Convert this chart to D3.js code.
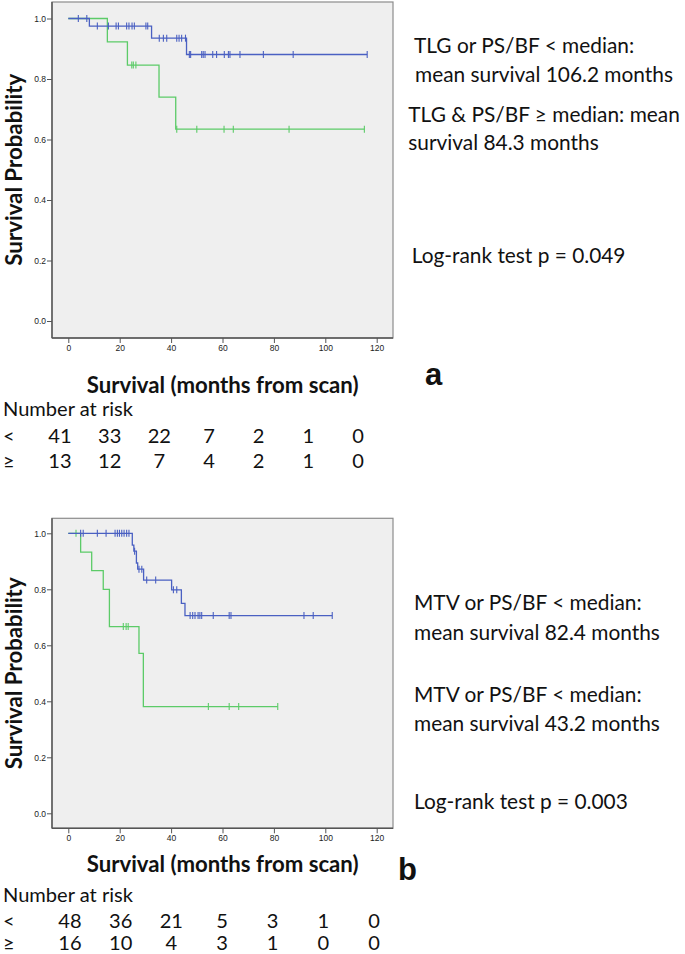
<!DOCTYPE html>
<html><head><meta charset="utf-8">
<script src="https://cdn.jsdelivr.net/npm/d3@7"></script>
<style>body{margin:0;background:#fff;} svg{display:block;}</style>
</head><body>
<script>
// ---------- DATA ----------
const xTickValues = [0, 20, 40, 60, 80, 100, 120];
const yTickValues = [0.0, 0.2, 0.4, 0.6, 0.8, 1.0];
const riskTimes = [0, 20, 40, 60, 80, 100, 120];

// Panel a
const aBlueTimes = [0, 8.2, 32.4, 46.0];
const aBlueSurv  = [1.0, 0.975, 0.935, 0.881];
const aBlueEnd   = 116.3;
const aBlueCens  = [3.9, 7.2, 11.3, 15.6, 18.6, 19.5, 22.7, 23.6, 24.8, 25.7, 30.2, 30.9, 35.4, 37.0, 38.3, 42.2, 43.1, 44.1, 45.6, 47.1, 47.6, 51.9, 52.5, 53.2, 56.2, 57.7, 60.7, 62.3, 62.9, 66.8, 75.9, 87.5, 116.3];
const aGreenTimes = [0, 15.2, 23.0, 35.3, 41.8];
const aGreenSurv  = [1.0, 0.923, 0.846, 0.740, 0.634];
const aGreenEnd   = 115.2;
const aGreenCens  = [24.7, 25.3, 26.3, 42.2, 50.0, 60.6, 64.2, 85.9, 115.2];
const aRiskLow  = [41, 33, 22, 7, 2, 1, 0];
const aRiskHigh = [13, 12, 7, 4, 2, 1, 0];
const aNotes = ["TLG or PS/BF < median:", "mean survival 106.2 months", "TLG & PS/BF \u2265 median: mean", "survival 84.3 months", "Log-rank test p = 0.049"];

// Panel b
const bBlueTimes = [0, 24.9, 25.5, 26.5, 27.0, 29.3, 40.2, 44.0, 45.4];
const bBlueSurv  = [1.0, 0.958, 0.936, 0.894, 0.872, 0.833, 0.798, 0.750, 0.706];
const bBlueEnd   = 102.7;
const bBlueCens  = [4.8, 5.8, 11.3, 14.7, 18.2, 19.1, 19.9, 20.8, 21.7, 22.7, 23.6, 25.8, 27.5, 28.6, 30.5, 34.0, 40.9, 42.2, 47.4, 48.4, 49.3, 50.5, 51.2, 51.9, 56.4, 62.6, 63.3, 91.7, 95.3, 102.7];
const bGreenTimes = [0, 4.8, 9.1, 13.6, 16.0, 27.5, 29.2];
const bGreenSurv  = [1.0, 0.933, 0.867, 0.800, 0.667, 0.571, 0.381];
const bGreenEnd   = 81.5;
const bGreenCens  = [3.0, 21.4, 22.5, 23.3, 54.5, 62.6, 66.3, 81.5];
const bRiskLow  = [48, 36, 21, 5, 3, 1, 0];
const bRiskHigh = [16, 10, 4, 3, 1, 0, 0];
const bNotes = ["MTV or PS/BF < median:", "mean survival 82.4 months", "MTV or PS/BF < median:", "mean survival 43.2 months", "Log-rank test p = 0.003"];

// ---------- STYLE ----------
const BLUE = "#4a60c2", GREEN = "#5ccb68";
const FONT = "Lato, 'Open Sans', sans-serif";

const svg = d3.select("body").append("svg").attr("width", 685).attr("height", 954);

function fitSize(text, weight, target) {
  const t = svg.append("text").attr("font-family", FONT).attr("font-weight", weight)
    .attr("font-size", 100).text(text);
  const w = t.node().getComputedTextLength();
  t.remove();
  return 100 * target / w;
}
const noteSize = fitSize("mean survival 106.2 months", 400, 258);
const titleSize = fitSize("Survival (months from scan)", 700, 272);
const ylabSize = fitSize("Survival Probability", 700, 192);
const riskSize = fitSize("Number at risk", 400, 130);

function panel(cfg) {
  const g = svg.append("g");
  const x = d3.scaleLinear().domain([0, 120]).range([68.3, 376.7]);
  const y = d3.scaleLinear().domain([0, 1]).range([cfg.y0, cfg.y1]);

  g.append("rect").attr("x", 52).attr("y", cfg.top).attr("width", 341).attr("height", cfg.bottom - cfg.top)
    .attr("fill", "#efefef").attr("stroke", "#8c8c8c").attr("stroke-width", 1.2);
  g.append("line").attr("x1", 52).attr("x2", 52).attr("y1", cfg.top).attr("y2", cfg.bottom).attr("stroke", "#555").attr("stroke-width", 1.4);
  g.append("line").attr("x1", 52).attr("x2", 393).attr("y1", cfg.bottom).attr("y2", cfg.bottom).attr("stroke", "#555").attr("stroke-width", 1.4);

  const xa = g.append("g").attr("transform", `translate(0,${cfg.bottom})`)
    .call(d3.axisBottom(x).tickValues(xTickValues).tickSize(5).tickSizeOuter(0).tickFormat(d3.format("d")));
  xa.select(".domain").remove();
  xa.selectAll("line").attr("stroke", "#555");
  xa.selectAll("text").attr("font-family", "'Liberation Sans', Arial, sans-serif").attr("font-size", 8.5).attr("fill", "#222").attr("dy", "0.6em");

  const ya = g.append("g").attr("transform", "translate(52,0)")
    .call(d3.axisLeft(y).tickValues(yTickValues).tickSize(5).tickSizeOuter(0).tickFormat(d3.format(".1f")));
  ya.select(".domain").remove();
  ya.selectAll("line").attr("stroke", "#555");
  ya.selectAll("text").attr("font-family", "'Liberation Sans', Arial, sans-serif").attr("font-size", 8.5).attr("fill", "#222").attr("x", -6);

  const line = d3.line().x(d => x(d[0])).y(d => y(d[1])).curve(d3.curveStepAfter);
  function curve(times, surv, end, cens, color) {
    const pts = times.map((t, i) => [t, surv[i]]);
    pts.push([end, surv[surv.length - 1]]);
    g.append("path").attr("d", line(pts)).attr("fill", "none").attr("stroke", color).attr("stroke-width", 1.3);
    const sAt = t => { let s = surv[0]; times.forEach((tt, i) => { if (tt <= t) s = surv[i]; }); return s; };
    g.selectAll(null).data(cens).enter().append("line")
      .attr("x1", d => x(d)).attr("x2", d => x(d))
      .attr("y1", d => y(sAt(d)) - 3.5).attr("y2", d => y(sAt(d)) + 3.5)
      .attr("stroke", color).attr("stroke-width", 1.1);
  }
  curve(cfg.green[0], cfg.green[1], cfg.green[2], cfg.green[3], GREEN);
  curve(cfg.blue[0], cfg.blue[1], cfg.blue[2], cfg.blue[3], BLUE);

  // y axis label
  g.append("text").attr("transform", `translate(22,${(cfg.y0 + cfg.y1) / 2}) rotate(-90)`)
    .attr("text-anchor", "middle").attr("font-family", FONT).attr("font-weight", 700)
    .attr("font-size", ylabSize).attr("fill", "#111").text("Survival Probability");
  // x axis title
  g.append("text").attr("x", 86.7).attr("y", cfg.titleY).attr("font-family", FONT).attr("font-weight", 700)
    .attr("font-size", titleSize).attr("fill", "#111").text("Survival (months from scan)");
  // panel letter
  g.append("text").attr("x", cfg.letterX).attr("y", cfg.letterY).attr("font-family", "'Liberation Sans', Arial, sans-serif")
    .attr("font-weight", 700).attr("font-size", 31).attr("fill", "#111").text(cfg.letter);

  // notes
  g.selectAll(null).data(cfg.notes).enter().append("text")
    .attr("x", (d, i) => cfg.noteX[i]).attr("y", (d, i) => cfg.noteY[i])
    .attr("font-family", FONT).attr("font-size", noteSize).attr("fill", "#111").text(d => d);

  // risk table
  const rx = d3.scaleLinear().domain([0, 120]).range(cfg.riskRange);
  g.append("text").attr("x", 3).attr("y", cfg.riskY[0]).attr("font-family", FONT).attr("font-size", riskSize).attr("fill", "#111").text("Number at risk");
  [["<", cfg.riskLow, cfg.riskY[1]], ["\u2265", cfg.riskHigh, cfg.riskY[2]]].forEach(([sym, vals, yy]) => {
    g.append("text").attr("x", 3).attr("y", yy).attr("font-family", FONT).attr("font-size", riskSize).attr("fill", "#111").text(sym);
    g.selectAll(null).data(vals).enter().append("text")
      .attr("x", (d, i) => rx(riskTimes[i])).attr("y", yy).attr("text-anchor", "middle")
      .attr("font-family", FONT).attr("font-size", riskSize).attr("fill", "#111").text(d => d);
  });
}

panel({
  top: 2, bottom: 338, y0: 321, y1: 18.5,
  blue: [aBlueTimes, aBlueSurv, aBlueEnd, aBlueCens],
  green: [aGreenTimes, aGreenSurv, aGreenEnd, aGreenCens],
  titleY: 393, letter: "a", letterX: 425, letterY: 385,
  notes: aNotes, noteX: [414, 415, 408.3, 408.3, 411.7], noteY: [53.3, 81.7, 121.7, 150, 263.3],
  riskRange: [60, 358], riskY: [416, 443.3, 468.3], riskLow: aRiskLow, riskHigh: aRiskHigh
});
panel({
  top: 518.3, bottom: 828.3, y0: 813.3, y1: 533.3,
  blue: [bBlueTimes, bBlueSurv, bBlueEnd, bBlueCens],
  green: [bGreenTimes, bGreenSurv, bGreenEnd, bGreenCens],
  titleY: 871.7, letter: "b", letterX: 398, letterY: 880,
  notes: bNotes, noteX: [414, 414, 414, 414, 414], noteY: [610, 640, 702, 731, 809],
  riskRange: [70, 374], riskY: [901.7, 927.5, 950], riskLow: bRiskLow, riskHigh: bRiskHigh
});
</script>
</body></html>
